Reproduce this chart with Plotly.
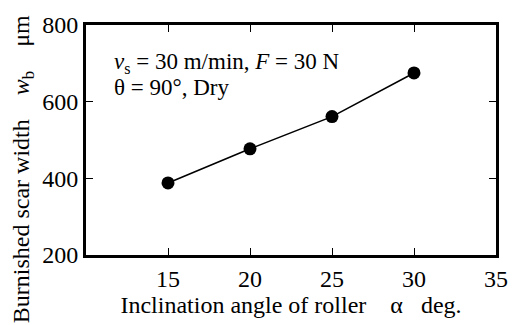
import plotly.graph_objects as go

angle = [15, 20, 25, 30]
width = [388, 477, 561, 675]
x_ticks = [15, 20, 25, 30, 35]
y_ticks = [200, 400, 600, 800]

FONT = "Liberation Serif"
NB = "\u00a0"

fig = go.Figure()
fig.add_trace(go.Scatter(
    x=angle, y=width, mode="lines+markers",
    line=dict(color="black", width=1.6),
    marker=dict(color="black", size=13),
    showlegend=False, cliponaxis=False,
))

axis_common = dict(
    showline=True, linecolor="black", linewidth=3, mirror="ticks",
    ticks="inside", ticklen=7, tickwidth=1.3, tickcolor="black",
    showgrid=False, zeroline=False,
    tickfont=dict(family=FONT, size=24, color="black"),
)

fig.update_xaxes(range=[10, 35], tickvals=x_ticks,
                 title=dict(text="Inclination angle of roller" + NB * 4 + "α" + NB * 3 + "deg.",
                            font=dict(family=FONT, size=24, color="black"), standoff=4),
                 **axis_common)
fig.update_yaxes(range=[200, 800], tickvals=y_ticks, **axis_common)

# y-axis title (placed lower than centre, as in the reference)
fig.add_annotation(
    xref="paper", yref="paper", x=-0.155, y=0.375, xanchor="center", yanchor="middle",
    textangle=-90, showarrow=False,
    text="Burnished scar width" + NB * 4 + "<i>w</i><sub>b</sub>" + NB * 4 + "μm",
    font=dict(family=FONT, size=24, color="black"))

fig.add_annotation(
    xref="paper", yref="paper", x=0.063, y=0.835, xanchor="left", yanchor="middle",
    text="<i>v</i><sub>s</sub> = 30 m/min, <i>F</i> = 30 N", showarrow=False,
    font=dict(family=FONT, size=23, color="black"))
fig.add_annotation(
    xref="paper", yref="paper", x=0.063, y=0.73, xanchor="left", yanchor="middle",
    text="θ = 90°, Dry", showarrow=False,
    font=dict(family=FONT, size=23, color="black"))

fig.update_layout(
    width=520, height=325,
    margin=dict(l=86, r=13, t=16, b=68),
    plot_bgcolor="white", paper_bgcolor="white",
)

fig.write_html("out.html")
